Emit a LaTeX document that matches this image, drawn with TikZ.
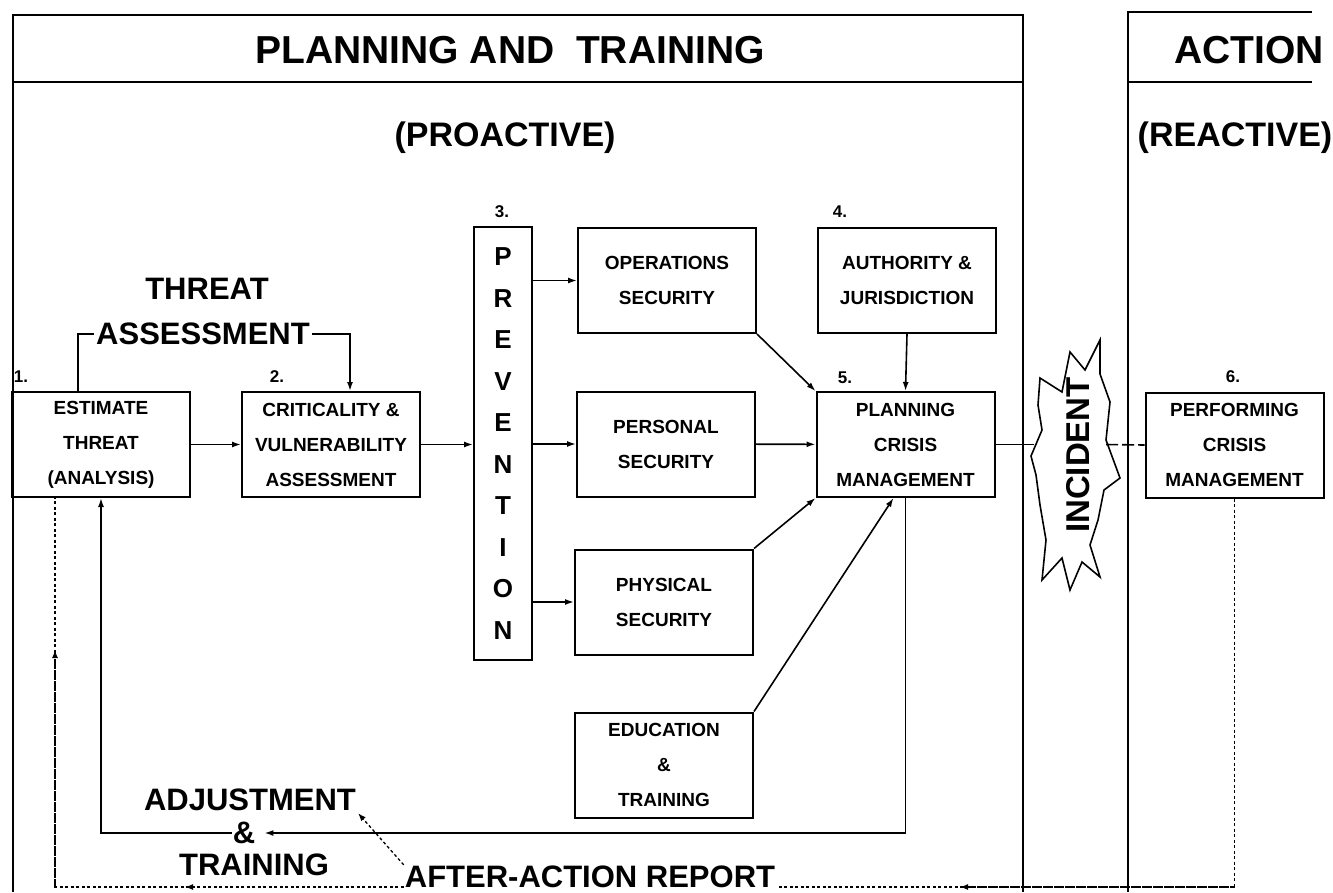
\documentclass[tikz,border=0pt]{standalone}
\usepackage{fontspec}
\setmainfont{Liberation Sans}
\usetikzlibrary{arrows.meta}

\newcommand{\boxfont}{\fontsize{19}{35}\selectfont\bfseries}
\newcommand{\numfont}{\fontsize{17}{20}\selectfont\bfseries}
\newcommand{\midfont}{\fontsize{31}{44}\selectfont\bfseries}
\newcommand{\subfont}{\fontsize{34}{40}\selectfont\bfseries}
\newcommand{\headfont}{\fontsize{39}{42}\selectfont\bfseries}
\newcommand{\letterfont}{\fontsize{26}{41.5}\selectfont\bfseries}

\tikzset{
  box/.style={draw, line width=2pt, minimum width=178pt, minimum height=105pt,
    inner sep=0pt, align=center, font=\boxfont},
  num/.style={font=\numfont, inner sep=1pt},
  big/.style={font=\midfont, inner sep=2pt},
  head/.style={font=\headfont, inner sep=2pt},
  conn/.style={line width=1.6pt, -{Latex[length=9pt,width=6pt]}},
  plain/.style={line width=1.6pt},
  report/.style={line width=1.3pt, dash pattern=on 3pt off 2.5pt},
}

\begin{document}
\begin{tikzpicture}[x=1pt,y=-1pt]
    \useasboundingbox (0,0) rectangle (1333,892);

    % Frames
    \draw[line width=2pt] (13,892) -- (13,15) -- (1023,15) -- (1023,892);
    \draw[line width=1.8pt] (13,82) -- (1023,82);
    \draw[line width=2pt] (1128,892) -- (1128,12) -- (1312,12);
    \draw[line width=1.8pt] (1128,82) -- (1312,82);
    \node[head] (plantitle) at (510,50) {PLANNING AND\ \ TRAINING};
    \node[head] (acttitle) at (1249,50) {ACTION};
    \node[font=\subfont] (proact) at (505,138) {(PROACTIVE)};
    \node[font=\subfont] (react) at (1235,138) {(REACTIVE)};

    % Boxes
    \node[box] (est) at (101,444.5) {ESTIMATE\\THREAT\\(ANALYSIS)};
    \node[box] (crit) at (331,444.5) {CRITICALITY \&\\VULNERABILITY\\ASSESSMENT};
    \node[draw, line width=2pt, minimum width=58pt, minimum height=433pt,
      inner sep=0pt, align=center, font=\letterfont] (prev) at (503,443.5)
      {P\\R\\E\\V\\E\\N\\T\\I\\O\\N};
    \node[box] (ops) at (667,280.5) {OPERATIONS\\SECURITY};
    \node[box] (pers) at (666,444) {PERSONAL\\SECURITY};
    \node[box] (phys) at (664,602) {PHYSICAL\\SECURITY};
    \node[box] (edu) at (664,765) {EDUCATION\\\&\\TRAINING};
    \node[box] (auth) at (907,280.5) {AUTHORITY \&\\JURISDICTION};
    \node[box] (plan) at (905.5,444.5) {PLANNING\\CRISIS\\MANAGEMENT};
    \node[box] (perf) at (1234.5,445) {PERFORMING\\CRISIS\\MANAGEMENT};

    % Numbers
    \node[num] (n1) at (21,377) {1.};
    \node[num] (n2) at (277,377) {2.};
    \node[num] (n3) at (502,212) {3.};
    \node[num] (n4) at (840,212) {4.};
    \node[num] (n5) at (845,378) {5.};
    \node[num] (n6) at (1233,377) {6.};

    % Threat assessment loop
    \node[big] (threat) at (207,289) {THREAT};
    \node[big] (assess) at (203,334) {ASSESSMENT};
    \draw[plain] ([xshift=-23pt]est.north) |- (assess.west);
    \draw[conn] (assess.east) -| ([xshift=19pt]crit.north);

    % Main flow
    \draw[conn] (est) -- (crit);
    \draw[conn] (crit) -- (prev.west |- crit);
    \foreach \b in {ops,pers,phys}
        \draw[conn] (prev.east |- \b) -- (\b.west);
    \draw[conn] (pers) -- (plan);
    \draw[conn] (ops.south east) -- (plan.north west);
    \draw[conn] (auth.south) -- (plan.north);
    \draw[conn] (phys.north east) -- (plan.south west);
    \draw[conn] (edu.north east) -- ([xshift=-12pt]plan.south);

    % Incident
    \draw[line width=1.6pt, fill=white] (1040,378) -- (1062,392) -- (1070,352)
      -- (1085,370) -- (1100,340) -- (1100,374) -- (1110,402) -- (1106,440)
      -- (1120,478) -- (1104,490) -- (1098,520) -- (1090,545) -- (1100,577)
      -- (1082,562) -- (1070,590) -- (1062,558) -- (1042,580) -- (1046,540)
      -- (1040,505) -- (1036,475) -- (1031,456) -- (1042,430) -- (1038,405) -- cycle;
    \node[font=\fontsize{33}{36}\selectfont\bfseries, rotate=90] (incident) at (1078,455) {INCIDENT};
    \coordinate (incl) at (1034,444.5);
    \coordinate (incr) at (1106,444.5);
    \draw[plain] (plan.east) -- (incl);
    \draw[plain, dash pattern=on 12pt off 4pt] (incr) -- (perf.west);

    % Adjustment and training loop
    \node[big, inner sep=1pt] (amp) at (244,833) {\&};
    \node[big] (adj) at (250,800) {ADJUSTMENT};
    \node[big] (trn) at (254,865) {TRAINING};
    \draw[conn, shorten >=8pt] (plan.south) |- (amp.east);
    \draw[conn] (amp.west) -| (est.south);

    % After-action report
    \node[big, fill=white, inner sep=1pt] (aar) at (590,877) {AFTER-ACTION REPORT};
    \coordinate (botL) at (55,887);
    \draw[report] (perf.south) |- (aar.east |- botL);
    \draw[report, -{Latex[length=8pt,width=6pt]}] (perf.south |- botL) -- (960,887);
    \draw[report] (aar.west |- botL) -- (botL) -- (est.south -| botL);
    \draw[report, -{Latex[length=8pt,width=6pt]}] (aar.west |- botL) -- (185,887);
    \draw[report, -{Latex[length=8pt,width=6pt]}] (botL) -- (55,650);
    \draw[report, -{Latex[length=8pt,width=6pt]}] (aar.north west) -- (adj.south east);
\end{tikzpicture}
\end{document}
